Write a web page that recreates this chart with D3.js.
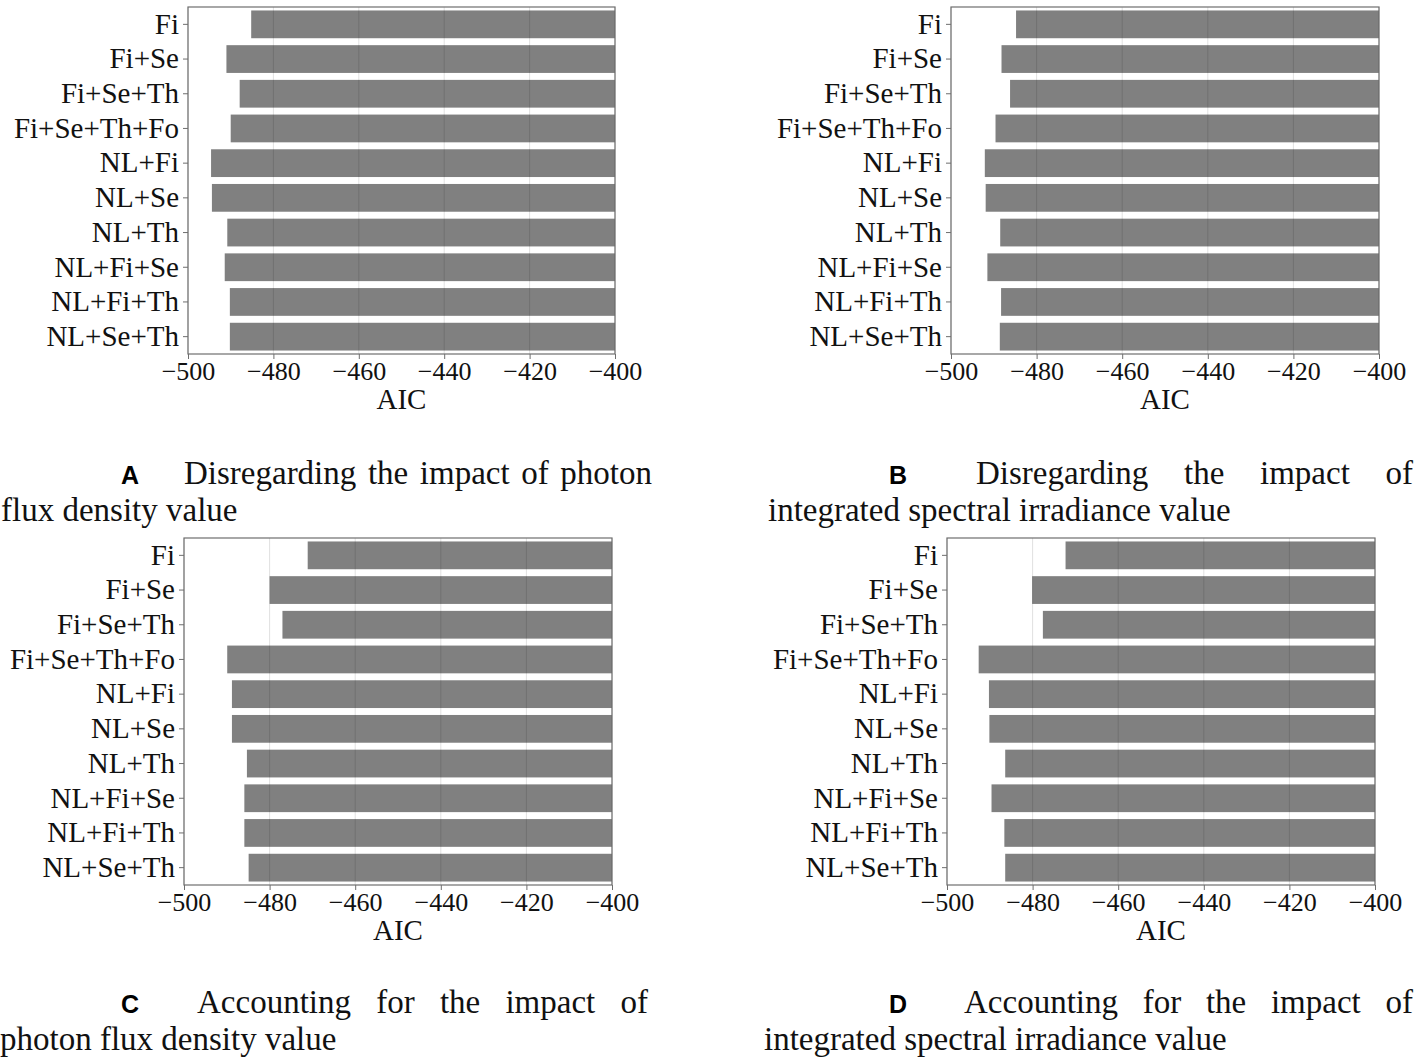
<!DOCTYPE html>
<html>
<head>
<meta charset="utf-8">
<script src="https://cdn.jsdelivr.net/npm/d3@7"></script>
<style>
    body { margin: 0; background: #fff; }
    svg { display: block; }
</style>
</head>
<body>
<svg id="chart" width="1417" height="1058"></svg>
<script>
// model combinations, top to bottom
const models = ["Fi", "Fi+Se", "Fi+Se+Th", "Fi+Se+Th+Fo", "NL+Fi", "NL+Se",
    "NL+Th", "NL+Fi+Se", "NL+Fi+Th", "NL+Se+Th"];

// AIC per model, one array per panel
const aicA = [-485.2, -491.0, -487.9, -490.0, -494.6, -494.4, -490.8, -491.4, -490.2, -490.2];
const aicB = [-484.8, -488.2, -486.2, -489.6, -492.1, -491.9, -488.5, -491.5, -488.3, -488.6];
const aicC = [-471.1, -480.0, -477.0, -489.9, -488.8, -488.8, -485.3, -485.9, -485.9, -484.9];
const aicD = [-472.3, -480.1, -477.6, -492.6, -490.2, -490.1, -486.4, -489.6, -486.6, -486.4];

const xDomain = [-500, -400];
const xTicks = [-500, -480, -460, -440, -420, -400];
const xLabel = "AIC";

const captionA = ["A", "Disregarding the impact of photon", "flux density value"];
const captionB = ["B", "Disregarding the impact of", "integrated spectral irradiance value"];
const captionC = ["C", "Accounting for the impact of", "photon flux density value"];
const captionD = ["D", "Accounting for the impact of", "integrated spectral irradiance value"];

const d3 = window.d3;
const svg = d3.select("#chart");
const serif = "'Liberation Serif', 'Times New Roman', serif";

const drawPanel = (values, frame) => {
    const x = d3.scaleLinear().domain(xDomain).range([frame.x0, frame.x1]);
    const y = d3.scaleBand()
        .domain(models)
        .range([frame.y0, frame.y1])
        .paddingInner(0.2)
        .paddingOuter(0.1);

    const g = svg.append("g");

    g.selectAll("rect.bar")
        .data(models)
        .join("rect")
        .attr("class", "bar")
        .attr("x", (d, i) => x(values[i]))
        .attr("width", (d, i) => x(xDomain[1]) - x(values[i]))
        .attr("y", (d) => y(d))
        .attr("height", y.bandwidth())
        .style("fill", "#808080");

    g.selectAll("line.grid")
        .data(xTicks)
        .join("line")
        .attr("class", "grid")
        .attr("x1", (d) => x(d))
        .attr("x2", (d) => x(d))
        .attr("y1", frame.y0)
        .attr("y2", frame.y1)
        .style("stroke", "#000")
        .style("stroke-opacity", 0.12);

    g.append("rect")
        .attr("x", frame.x0)
        .attr("y", frame.y0)
        .attr("width", frame.x1 - frame.x0)
        .attr("height", frame.y1 - frame.y0)
        .style("fill", "none")
        .style("stroke", "#6e6e6e")
        .style("stroke-width", 1.2);

    const yAxis = d3.axisLeft(y).tickSize(5).tickPadding(4);
    g.append("g")
        .attr("transform", `translate(${frame.x0}, 0)`)
        .call(yAxis)
        .call((a) => a.select(".domain").remove())
        .call((a) => a.selectAll(".tick line").style("stroke", "#6e6e6e"))
        .call((a) =>
            a.selectAll("text")
                .style("font-family", serif)
                .style("font-size", "29px")
                .style("fill", "#111")
        );

    const xAxis = d3.axisBottom(x)
        .tickValues(xTicks)
        .tickFormat(d3.format("d"))
        .tickSize(5)
        .tickPadding(3);
    g.append("g")
        .attr("transform", `translate(0, ${frame.y1})`)
        .call(xAxis)
        .call((a) => a.select(".domain").remove())
        .call((a) => a.selectAll(".tick line").style("stroke", "#6e6e6e"))
        .call((a) =>
            a.selectAll("text")
                .style("font-family", serif)
                .style("font-size", "26px")
                .style("fill", "#111")
        );

    g.append("text")
        .attr("x", (frame.x0 + frame.x1) / 2)
        .attr("y", frame.y1 + 55)
        .attr("text-anchor", "middle")
        .style("font-family", serif)
        .style("font-size", "29px")
        .style("fill", "#111")
        .text(xLabel);
};

// first line justified between wordsX0 and wordsX1, second line left aligned
const drawCaption = (caption, pos) => {
    const [letter, line1, line2] = caption;
    const g = svg.append("g");

    g.append("text")
        .attr("x", pos.letterX)
        .attr("y", pos.y1)
        .style("font-family", "'Liberation Sans', Arial, sans-serif")
        .style("font-weight", "bold")
        .style("font-size", "25px")
        .text(letter);

    const words = line1.split(" ");
    const texts = words.map((w) =>
        g.append("text")
            .attr("y", pos.y1)
            .style("font-family", serif)
            .style("font-size", "33px")
            .style("fill", "#111")
            .text(w)
    );
    const widths = texts.map((t) => t.node().getComputedTextLength());
    const gap = (pos.wordsX1 - pos.wordsX0 - d3.sum(widths)) / (words.length - 1);
    let cx = pos.wordsX0;
    texts.forEach((t, i) => {
        t.attr("x", cx);
        cx += widths[i] + gap;
    });

    g.append("text")
        .attr("x", pos.line2X)
        .attr("y", pos.y2)
        .style("font-family", serif)
        .style("font-size", "33px")
        .style("fill", "#111")
        .text(line2);
};

drawPanel(aicA, { x0: 188, x1: 615, y0: 7, y1: 354 });
drawPanel(aicB, { x0: 951, x1: 1379, y0: 7, y1: 354 });
drawPanel(aicC, { x0: 184, x1: 612, y0: 538, y1: 885 });
drawPanel(aicD, { x0: 947, x1: 1375, y0: 538, y1: 885 });

drawCaption(captionA, { letterX: 121, wordsX0: 184, wordsX1: 652, y1: 484, line2X: 1, y2: 521 });
drawCaption(captionB, { letterX: 889, wordsX0: 976, wordsX1: 1413, y1: 484, line2X: 768, y2: 521 });
drawCaption(captionC, { letterX: 121, wordsX0: 197, wordsX1: 648, y1: 1013, line2X: 0, y2: 1050 });
drawCaption(captionD, { letterX: 889, wordsX0: 964, wordsX1: 1413, y1: 1013, line2X: 764, y2: 1050 });
</script>
</body>
</html>
